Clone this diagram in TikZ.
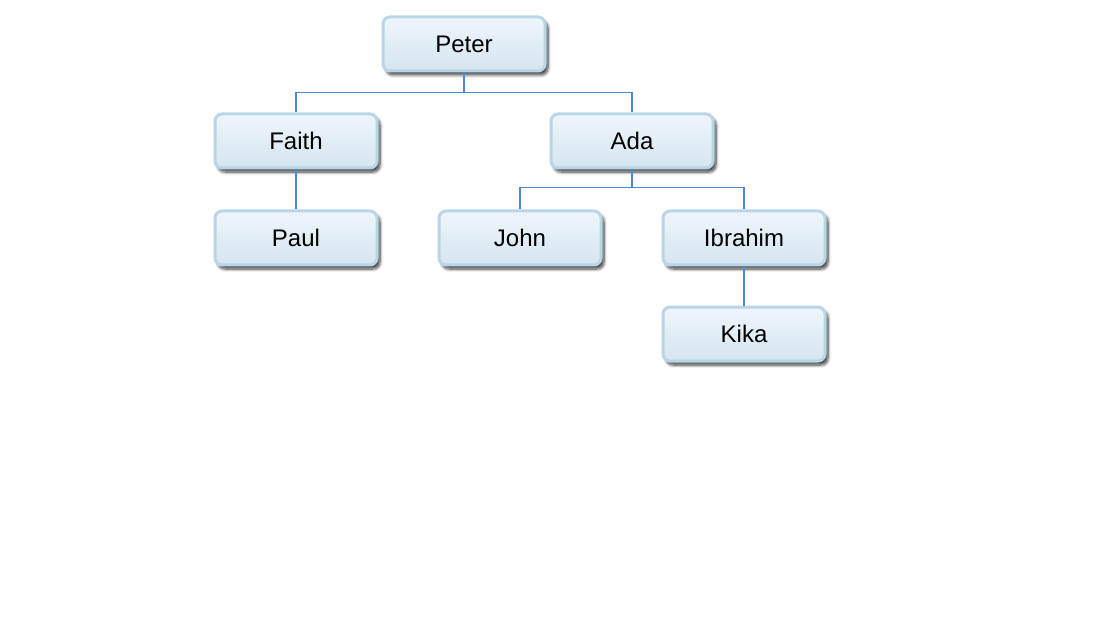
\documentclass[tikz,border=0pt]{standalone}
\usepackage{fontspec}
\setmainfont{Liberation Sans}
\usetikzlibrary{shadows.blur}
\definecolor{boxborder}{HTML}{B9D5E7}
\definecolor{boxtop}{HTML}{EEF6FC}
\definecolor{boxbottom}{HTML}{D5E5EF}
\definecolor{linkblue}{HTML}{4A88DA}
\begin{document}
\begin{tikzpicture}[x=1pt,y=-1pt,
  person/.style={draw=boxborder, line width=3pt, rounded corners=7pt,
    top color=boxtop, bottom color=boxbottom,
    minimum width=162pt, minimum height=54pt, inner sep=0pt,
    font=\fontsize{24}{28}\selectfont,
    blur shadow={shadow xshift=3pt, shadow yshift=-4pt, shadow blur steps=8, shadow blur radius=3pt, shadow opacity=75}},
  link/.style={draw=linkblue, line width=1.5pt}]
  \useasboundingbox (0,0) rectangle (1116,620);
  % people
  \node[person] (peter) at (464,44) {Peter};
  \node[person] (faith) at (296,141) {Faith};
  \node[person] (ada) at (632,141) {Ada};
  \node[person] (paul) at (296,238) {Paul};
  \node[person] (john) at (520,238) {John};
  \node[person] (ibrahim) at (744,238) {Ibrahim};
  \node[person] (kika) at (744,334) {Kika};
  % links between parents and children
  \draw[link] (peter.south) -- ++(0,20) -| (faith.north);
  \draw[link] (peter.south) -- ++(0,20) -| (ada.north);
  \draw[link] (faith.south) -- (paul.north);
  \draw[link] (ada.south) -- ++(0,18) -| (john.north);
  \draw[link] (ada.south) -- ++(0,18) -| (ibrahim.north);
  \draw[link] (ibrahim.south) -- (kika.north);
\end{tikzpicture}
\end{document}
